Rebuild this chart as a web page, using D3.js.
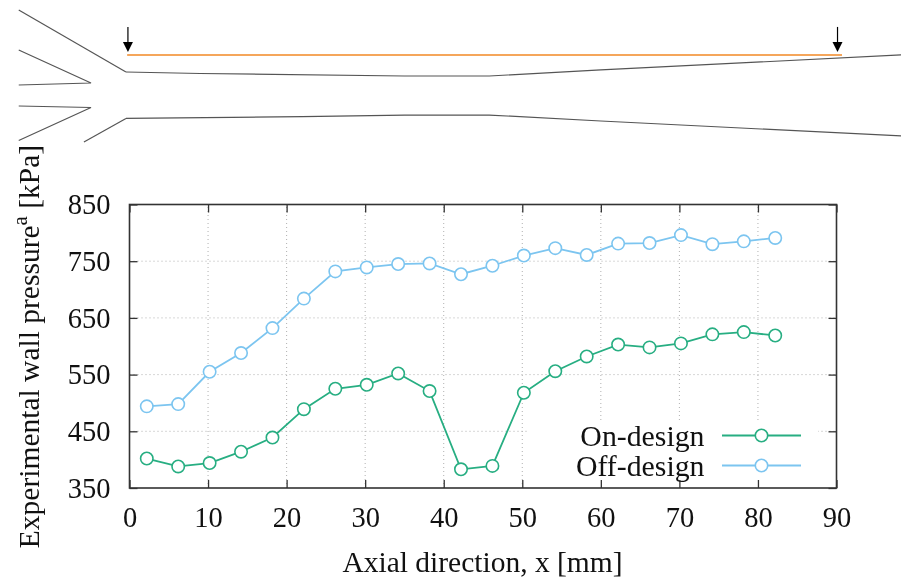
<!DOCTYPE html>
<html>
<head>
<meta charset="utf-8">
<script src="https://cdn.jsdelivr.net/npm/d3@7"></script>
<style>
	html, body { margin: 0; padding: 0; background: #fff; }
	svg { display: block; filter: blur(0.45px); }
	text { font-family: "Liberation Serif", serif; fill: #111; }
	.grid line { stroke: #b0b0b0; stroke-width: 1; stroke-dasharray: 1 3; }
	.schematic path { fill: none; stroke: #555; stroke-width: 1.2; }
</style>
</head>
<body>
<script>
// measured values
var xTicks = [0, 10, 20, 30, 40, 50, 60, 70, 80, 90];
var yTicks = [350, 450, 550, 650, 750, 850];
var axial = [2.2, 6.2, 10.2, 14.2, 18.2, 22.2, 26.2, 30.2, 34.2, 38.2, 42.2, 46.2, 50.2, 54.2, 58.2, 62.2, 66.2, 70.2, 74.2, 78.2, 82.2];
var onDesign = [402, 388, 394, 414, 439, 489, 525, 532, 552, 521, 383, 389, 518, 556, 582, 603, 598, 605, 621, 625, 619];
var offDesign = [494, 498, 555, 588, 632, 684, 732, 739, 745, 746, 727, 742, 760, 773, 761, 781, 782, 796, 780, 785, 791];

// nozzle outline, [axial mm, mm from the centreline]
var upperWall = [[-0.45, 2.93], [9, 2.74], [35, 2.42], [45.8, 2.42], [60, 3.19], [98.3, 5.1]];
var lowerWall = [[-0.45, -2.98], [22, -2.75], [35, -2.55], [45.8, -2.55], [60, -3.31], [98.3, -5.22]];
var outerInlet = [[-14.1, 10.83], [-0.45, 2.93]];
var lowerInlet = [[-5.8, -5.99], [-0.45, -2.98]];
var upperSplitter = [[-14.1, 5.73], [-4.9, 1.53], [-14.1, 1.27]];
var lowerSplitter = [[-14.1, -1.4], [-4.9, -1.59], [-14.1, -5.8]];
var probeLine = [[-0.3, 5.1], [90.7, 5.1]];
var arrowsAt = [-0.2, 90.13];

var width = 901, height = 577;
var margin = { top: 204.5, right: 64.5, bottom: 89, left: 129.5 };
var green = "#27ae82", blue = "#7cc5f0";

var svg = d3.select("body").append("svg")
	.attr("width", width)
	.attr("height", height);

var x = d3.scaleLinear().domain([0, 90]).range([margin.left, width - margin.right]);
var y = d3.scaleLinear().domain([350, 850]).range([height - margin.bottom, margin.top]);
// schematic is on the same mm scale as the chart
var ySchem = d3.scaleLinear().domain([0, 1]).range([95, 95 - 7.855]);

var schemLine = d3.line()
	.x(function(d) { return x(d[0]); })
	.y(function(d) { return ySchem(d[1]); });

var schem = svg.append("g").attr("class", "schematic");
[upperWall, lowerWall, outerInlet, lowerInlet, upperSplitter, lowerSplitter].forEach(function(each) {
	schem.append("path").attr("d", schemLine(each));
});
schem.append("path")
	.attr("d", schemLine(probeLine))
	.style("stroke", "#f5a65b")
	.style("stroke-width", 2);

arrowsAt.forEach(function(each) {
	var ax = x(each), tip = ySchem(5.1) - 3;
	svg.append("line")
		.attr("x1", ax).attr("x2", ax)
		.attr("y1", tip - 25).attr("y2", tip - 5)
		.attr("stroke", "#000").attr("stroke-width", 1.2);
	svg.append("path")
		.attr("d", "M" + (ax - 5) + "," + (tip - 10) + "L" + (ax + 5) + "," + (tip - 10) + "L" + ax + "," + tip + "Z")
		.attr("fill", "#000");
});

// grid
var grid = svg.append("g").attr("class", "grid");
grid.selectAll(".gx")
	.data(xTicks.slice(1, -1))
	.enter().append("line")
	.attr("x1", function(d) { return x(d); })
	.attr("x2", function(d) { return x(d); })
	.attr("y1", y(350))
	.attr("y2", y(850));
grid.selectAll(".gy")
	.data(yTicks.slice(1, -1))
	.enter().append("line")
	.attr("x1", x(0))
	.attr("x2", x(90))
	.attr("y1", function(d) { return y(d); })
	.attr("y2", function(d) { return y(d); });

// legend box hides the grid behind it
svg.append("rect")
	.attr("x", 527).attr("y", 421)
	.attr("width", 291).attr("height", 67)
	.attr("fill", "#fff");

function styleAxis(g) {
	g.select(".domain").remove();
	g.selectAll(".tick line").attr("stroke", "#333").attr("stroke-width", 1.3);
	g.selectAll(".tick text").attr("font-size", 28.5).attr("fill", "#111");
}

svg.append("g")
	.attr("transform", "translate(0," + y(350) + ")")
	.call(d3.axisBottom(x).tickValues(xTicks).tickSize(-8).tickPadding(19))
	.call(styleAxis);
svg.append("g")
	.attr("transform", "translate(0," + y(850) + ")")
	.call(d3.axisTop(x).tickValues(xTicks).tickSize(-8).tickFormat(""))
	.call(styleAxis);
svg.append("g")
	.attr("transform", "translate(" + x(0) + ",0)")
	.call(d3.axisLeft(y).tickValues(yTicks).tickSize(-8).tickPadding(19))
	.call(styleAxis);
svg.append("g")
	.attr("transform", "translate(" + x(90) + ",0)")
	.call(d3.axisRight(y).tickValues(yTicks).tickSize(-8).tickFormat(""))
	.call(styleAxis);

svg.append("rect")
	.attr("x", x(0)).attr("y", y(850))
	.attr("width", x(90) - x(0)).attr("height", y(350) - y(850))
	.attr("fill", "none")
	.attr("stroke", "#333")
	.attr("stroke-width", 1.6);

// series
var series = [
	{ name: "On-design", values: onDesign, color: green, legendY: 435.5 },
	{ name: "Off-design", values: offDesign, color: blue, legendY: 465.5 }
];
var line = d3.line()
	.x(function(d) { return x(d[0]); })
	.y(function(d) { return y(d[1]); });

series.forEach(function(s) {
	var pts = d3.zip(axial, s.values);
	svg.append("path")
		.attr("d", line(pts))
		.attr("fill", "none")
		.attr("stroke", s.color)
		.attr("stroke-width", 1.8);
	svg.selectAll(null)
		.data(pts)
		.enter().append("circle")
		.attr("cx", function(d) { return x(d[0]); })
		.attr("cy", function(d) { return y(d[1]); })
		.attr("r", 6.2)
		.attr("fill", "#fff")
		.attr("stroke", s.color)
		.attr("stroke-width", 1.6);

	svg.append("line")
		.attr("x1", 722).attr("x2", 801)
		.attr("y1", s.legendY).attr("y2", s.legendY)
		.attr("stroke", s.color).attr("stroke-width", 1.8);
	svg.append("circle")
		.attr("cx", 761.5).attr("cy", s.legendY)
		.attr("r", 6.2)
		.attr("fill", "#fff")
		.attr("stroke", s.color).attr("stroke-width", 1.6);
	svg.append("text")
		.attr("x", 704.5).attr("y", s.legendY + 10)
		.attr("text-anchor", "end")
		.attr("font-size", 29.8)
		.text(s.name);
});

// titles
svg.append("text")
	.attr("x", 482.5).attr("y", 572)
	.attr("text-anchor", "middle")
	.attr("font-size", 29.5)
	.text("Axial direction, x [mm]");

var yTitle = svg.append("text")
	.attr("transform", "translate(38.5,346.5) rotate(-90)")
	.attr("text-anchor", "middle")
	.attr("font-size", 29.5);
yTitle.append("tspan").text("Experimental wall pressure");
yTitle.append("tspan").attr("dy", -12).attr("font-size", 21).text("a");
yTitle.append("tspan").attr("dy", 12).text(" [kPa]");
</script>
</body>
</html>
